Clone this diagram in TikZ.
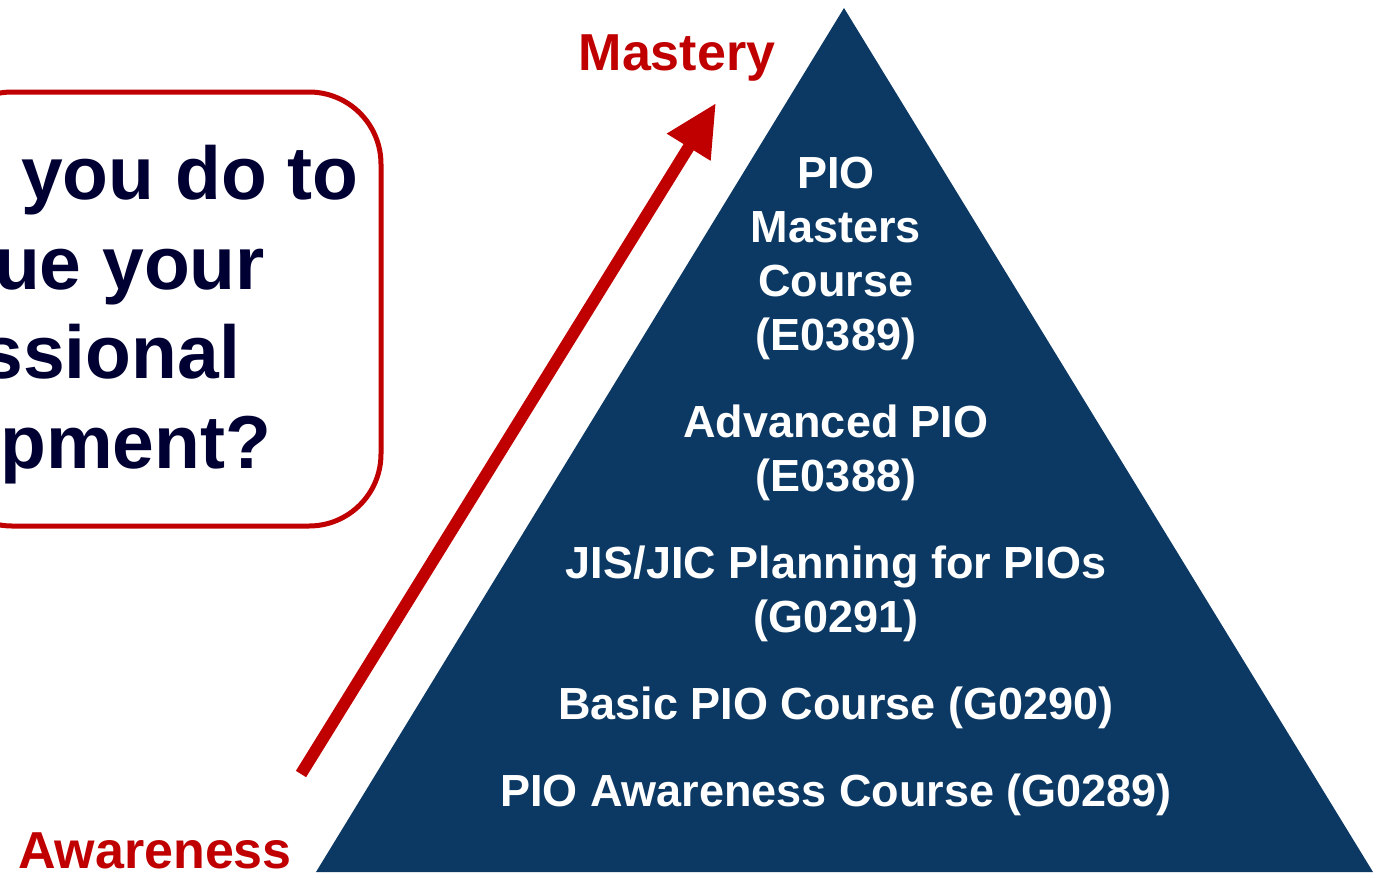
\documentclass[tikz,border=0pt]{standalone}
\usepackage{fontspec}
\setmainfont{Liberation Sans}
\usetikzlibrary{arrows.meta}
\definecolor{pyrblue}{RGB}{12,57,100}
\definecolor{darkred}{RGB}{192,0,0}
\definecolor{inknavy}{RGB}{0,0,51}
\tikzset{
  course/.style={text=white, font=\fontsize{45pt}{54pt}\selectfont\bfseries, align=center, inner sep=0pt, anchor=base},
  level/.style={text=darkred, font=\fontsize{52pt}{60pt}\selectfont\bfseries, inner sep=0pt, anchor=base},
  question/.style={text=inknavy, font=\fontsize{75pt}{89.5pt}\selectfont\bfseries, align=center, inner sep=0pt, anchor=base},
}
\begin{document}
\begin{tikzpicture}[x=1pt,y=-1pt]
%%%%%%%%%%%%%%%%%%%%%%%%%%%%%%%%%%%%%%%%%%% frame
\useasboundingbox (0,0) rectangle (1374,873);
\clip (0,0) rectangle (1374,873);

%%%%%%%%%%%%%%%%%%%%%%%%%%%%%%%%%%%%%%%%%%% question box (base = last line)
\draw[darkred, line width=5pt, rounded corners=72pt] (-60,92) rectangle (381,526);
\node[question] (ask) at (17,468) {What will you do to\\continue your\\professional\\development?};

%%%%%%%%%%%%%%%%%%%%%%%%%%%%%%%%%%%%%%%%%%% pyramid
\fill[pyrblue] (844,8) -- (1373,872) -- (316,872) -- cycle;
\node[course] (masters) at (836,350) {PIO\\Masters\\Course\\(E0389)};
\node[course] (advanced) at (836,491) {Advanced PIO\\(E0388)};
\node[course] (jisjic) at (836,632) {JIS/JIC Planning for PIOs\\(G0291)};
\node[course] (basic) at (836,719) {Basic PIO Course (G0290)};
\node[course] (aware) at (836,806) {PIO Awareness Course (G0289)};

%%%%%%%%%%%%%%%%%%%%%%%%%%%%%%%%%%%%%%%%%%% scale
\node[level] (mastery) at (677,70) {Mastery};
\node[level] (awareness) at (155,868) {Awareness};
\coordinate (low) at (301,774);
\coordinate (high) at (716,103);
\draw[darkred, line width=12pt, -{Triangle[length=52pt,width=48pt]}] (low) -- (high);

\end{tikzpicture}
\end{document}
